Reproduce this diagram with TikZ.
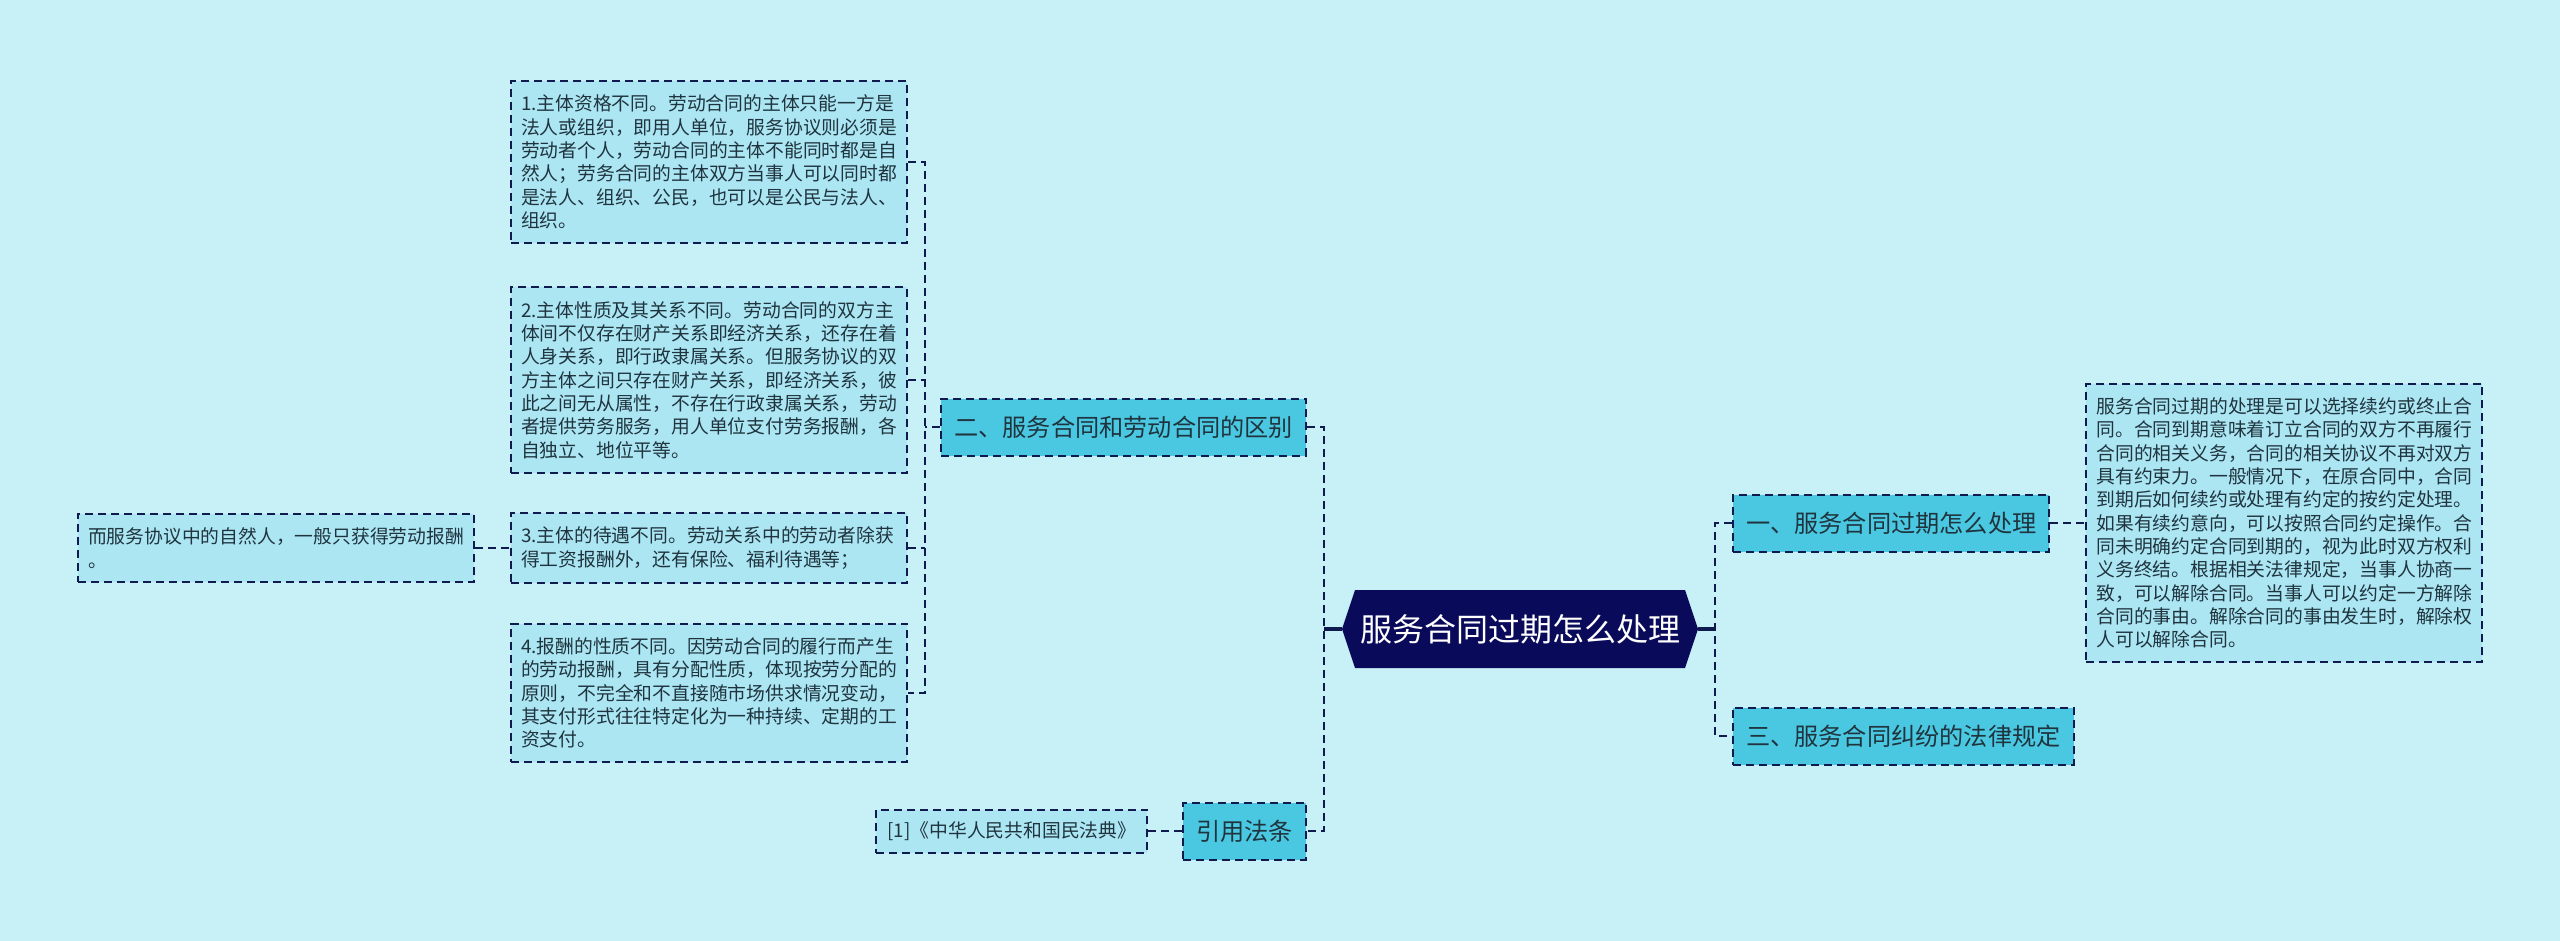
\documentclass[tikz,border=0pt]{standalone}
\usepackage{fontspec}
\setmainfont{Noto Sans CJK SC}
\usetikzlibrary{positioning}
\definecolor{bgcol}{HTML}{C8F0F7}
\definecolor{leafcol}{HTML}{ACE6F3}
\definecolor{branchcol}{HTML}{4BC8E1}
\definecolor{corecol}{HTML}{0A0A5A}
\definecolor{linecol}{HTML}{0F1A4F}
\definecolor{textcol}{HTML}{1F343E}

\begin{document}
\begin{tikzpicture}[
    x=0.5pt, y=-0.5pt,
    node distance=17.5pt,
    dashline/.style={draw=linecol, line width=1pt, dash pattern=on 4pt off 2.5pt},
    leaf/.style={dashline, fill=leafcol, text=textcol, text width=188pt, align=left, inner xsep=5pt, inner ysep=7pt, font=\fontsize{9.4pt}{11.67pt}\selectfont},
    lawbox/.style={dashline, fill=leafcol, text=textcol, inner xsep=5.5pt, minimum height=21.5pt, font=\fontsize{9.4pt}{11.67pt}\selectfont},
    branch/.style={dashline, fill=branchcol, text=textcol, inner xsep=6.5pt, minimum height=28.5pt, font=\fontsize{12.1pt}{14pt}\selectfont},
    core/.style={minimum width=178pt, minimum height=39pt, text=white, font=\fontsize{16pt}{19pt}\selectfont,
        path picture={\fill[corecol] ([xshift=6.5pt]path picture bounding box.north west) -- ([xshift=-6.5pt]path picture bounding box.north east) -- (path picture bounding box.east) -- ([xshift=-6.5pt]path picture bounding box.south east) -- ([xshift=6.5pt]path picture bounding box.south west) -- (path picture bounding box.west) -- cycle;}},
    link/.style={dashline},
    stem/.style={draw=linecol, line width=1.6pt}
]
\fill[bgcol] (0,0) rectangle (2560,941);
\useasboundingbox (0,0) rectangle (2560,941);

\node[core] (root) at (1520,629) {服务合同过期怎么处理};

\node[branch, anchor=west] (expire) at (1732,523) {一、服务合同过期怎么处理};
\node[branch, anchor=west] (dispute) at (1732,736) {三、服务合同纠纷的法律规定};
\node[branch, anchor=east] (diff) at (1307,427) {二、服务合同和劳动合同的区别};
\node[branch, anchor=east] (cite) at (1307,831) {引用法条};

\node[leaf, right=of expire] (expiretxt) {服务合同过期的处理是可以选择续约或终止合\\同。合同到期意味着订立合同的双方不再履行\\合同的相关义务，合同的相关协议不再对双方\\具有约束力。一般情况下，在原合同中，合同\\到期后如何续约或处理有约定的按约定处理。\\如果有续约意向，可以按照合同约定操作。合\\同未明确约定合同到期的，视为此时双方权利\\义务终结。根据相关法律规定，当事人协商一\\致，可以解除合同。当事人可以约定一方解除\\合同的事由。解除合同的事由发生时，解除权\\人可以解除合同。};

\node[leaf, anchor=east] (subject) at (908,162) {1.主体资格不同。劳动合同的主体只能一方是\\法人或组织，即用人单位，服务协议则必须是\\劳动者个人，劳动合同的主体不能同时都是自\\然人；劳务合同的主体双方当事人可以同时都\\是法人、组织、公民，也可以是公民与法人、\\组织。};
\node[leaf, anchor=east] (nature) at (908,380) {2.主体性质及其关系不同。劳动合同的双方主\\体间不仅存在财产关系即经济关系，还存在着\\人身关系，即行政隶属关系。但服务协议的双\\方主体之间只存在财产关系，即经济关系，彼\\此之间无从属性，不存在行政隶属关系，劳动\\者提供劳务服务，用人单位支付劳务报酬，各\\自独立、地位平等。};
\node[leaf, anchor=east] (treat) at (908,548) {3.主体的待遇不同。劳动关系中的劳动者除获\\得工资报酬外，还有保险、福利待遇等；};
\node[leaf, anchor=east] (pay) at (908,693) {4.报酬的性质不同。因劳动合同的履行而产生\\的劳动报酬，具有分配性质，体现按劳分配的\\原则，不完全和不直接随市场供求情况变动，\\其支付形式往往特定化为一种持续、定期的工\\资支付。};
\node[leaf, left=of treat] (person) {而服务协议中的自然人，一般只获得劳动报酬\\。};

\node[lawbox, left=17pt of cite] (code) {[1]《中华人民共和国民法典》};

\coordinate (lj) at (1324,629);
\coordinate (rj) at (1715,629);
\coordinate (mj) at (925,427);

\draw[stem] (root.west) -- (lj);
\draw[stem] (root.east) -- (rj);
\draw[link] (diff.east) -| (lj) |- (cite.east);
\draw[link] (expire.west) -| (rj) |- (dispute.west);
\draw[link] (expire) -- (expiretxt);
\draw[link] (code) -- (cite);
\draw[link] (diff.west) -- (mj);
\draw[link] (subject.east) -| (mj) |- (pay.east);
\draw[link] (nature.east) -- (nature.east -| mj);
\draw[link] (treat.east) -- (treat.east -| mj);
\draw[link] (person) -- (treat);
\end{tikzpicture}
\end{document}
